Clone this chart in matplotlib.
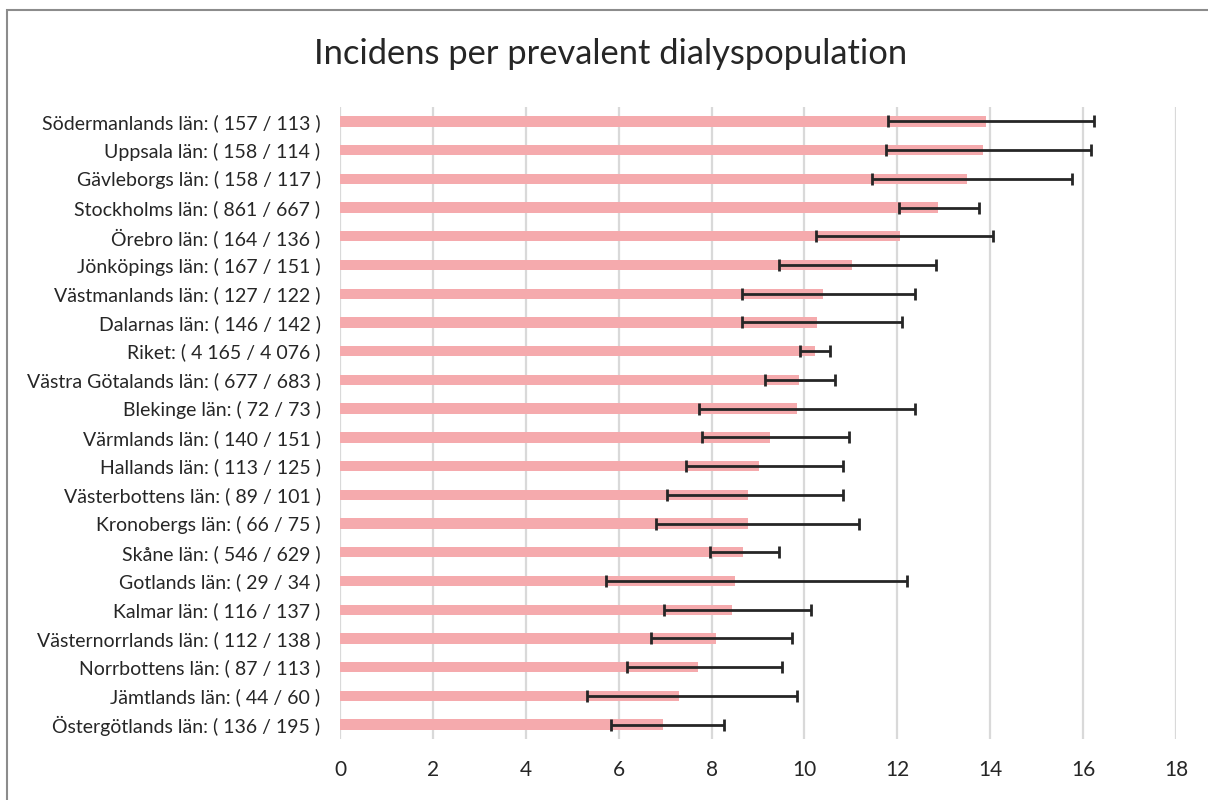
import matplotlib
matplotlib.use("Agg")
import matplotlib.pyplot as plt
from matplotlib.patches import Rectangle
import numpy as np

plt.rcParams['font.family'] = ['Lato', 'DejaVu Sans']

# Regions, top to bottom, with (incident / prevalent) counts
regions = [
    "Södermanlands län", "Uppsala län", "Gävleborgs län", "Stockholms län",
    "Örebro län", "Jönköpings län", "Västmanlands län", "Dalarnas län",
    "Riket", "Västra Götalands län", "Blekinge län", "Värmlands län",
    "Hallands län", "Västerbottens län", "Kronobergs län", "Skåne län",
    "Gotlands län", "Kalmar län", "Västernorrlands län", "Norrbottens län",
    "Jämtlands län", "Östergötlands län",
]
counts = [
    "157 / 113", "158 / 114", "158 / 117", "861 / 667", "164 / 136",
    "167 / 151", "127 / 122", "146 / 142", "4 165 / 4 076", "677 / 683",
    "72 / 73", "140 / 151", "113 / 125", "89 / 101", "66 / 75",
    "546 / 629", "29 / 34", "116 / 137", "112 / 138", "87 / 113",
    "44 / 60", "136 / 195",
]
incidence = [13.91, 13.84, 13.50, 12.87, 12.06, 11.03, 10.40, 10.28, 10.23, 9.88,
             9.83, 9.25, 9.02, 8.79, 8.79, 8.68, 8.50, 8.45, 8.10, 7.70, 7.30, 6.95]
ci_low = [11.80, 11.75, 11.46, 12.04, 10.25, 9.45, 8.65, 8.65, 9.91, 9.16,
          7.73, 7.79, 7.44, 7.04, 6.81, 7.96, 5.72, 6.98, 6.69, 6.18, 5.32, 5.83]
ci_high = [16.23, 16.18, 15.77, 13.76, 14.05, 12.84, 12.39, 12.10, 10.54, 10.66,
           12.39, 10.95, 10.84, 10.84, 11.18, 9.45, 12.21, 10.15, 9.74, 9.51, 9.85, 8.26]
x_ticks = [0, 2, 4, 6, 8, 10, 12, 14, 16, 18]

labels = [f"{r}: ( {c} )" for r, c in zip(regions, counts)]

fig = plt.figure(figsize=(12.08, 8.0), dpi=100)
ax = fig.add_axes([340 / 1208, 1 - 739 / 800, (1176 - 340) / 1208, (739 - 107) / 800])

y = np.arange(len(regions))
vals = np.array(incidence)
err = [vals - np.array(ci_low), np.array(ci_high) - vals]

ax.barh(y, vals, height=0.36, color='#F5AAAD', zorder=2)
ax.errorbar(vals, y, xerr=err, fmt='none', ecolor='#262626', elinewidth=2.0,
            capsize=4.6, capthick=2.0, zorder=3)

ax.set_xlim(0, 18)
ax.set_ylim(len(regions) - 0.5, -0.5)
ax.set_xticks(x_ticks)
ax.set_xticklabels([str(t) for t in x_ticks], fontsize=15, color='#262626')
ax.set_yticks(y)
ax.set_yticklabels(labels, fontsize=14, color='#262626')
ax.tick_params(axis='both', length=0)
ax.tick_params(axis='y', pad=14)
ax.tick_params(axis='x', pad=15)
ax.grid(axis='x', color='#D9D9D9', linewidth=1.6, zorder=0)
ax.set_axisbelow(True)
for s in ax.spines.values():
    s.set_visible(False)

fig.text(611 / 1208, 1 - 54 / 800, "Incidens per prevalent dialyspopulation",
         ha='center', va='center', fontsize=24.8, color='#262626')

# Chart frame
fig.patches.append(Rectangle((7 / 1208, -0.1), 1.2, 1 - 9.5 / 800 + 0.1,
                             transform=fig.transFigure, fill=False,
                             edgecolor='#8C8C8C', linewidth=1.5))

fig.savefig("out.png", dpi=100)
